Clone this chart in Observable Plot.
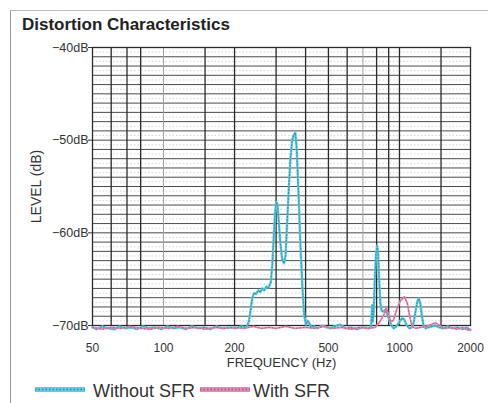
<!DOCTYPE html>
<html><head><meta charset="utf-8">
<script src="https://cdn.jsdelivr.net/npm/d3@7"></script>
<script src="https://cdn.jsdelivr.net/npm/@observablehq/plot@0.6"></script>
<style>
body{margin:0;background:#fff;font-family:"Liberation Sans",Arial,sans-serif;}
#wrap{position:relative;width:488px;height:403px;overflow:hidden;background:#fff}
#border{position:absolute;left:10px;top:10px;width:490px;height:400px;border-left:1px solid #999;border-top:1px solid #bbb}
#title{position:absolute;left:22px;top:15.6px;font-weight:bold;font-size:17px;color:#222;line-height:1;white-space:nowrap}
#chart{position:absolute;left:0;top:0}
.leg{position:absolute;top:381.5px;font-size:18px;line-height:1;color:#333;white-space:nowrap}
.sw{position:absolute;top:386px}
</style></head>
<body>
<div id="wrap">
  <div id="border"></div>
  <div id="title">Distortion Characteristics</div>
  <div id="chart"></div>
  <div id="legend"></div>
</div>
<script>
// ---- data ----
const seriesNames = ["Without SFR", "With SFR"];
const seriesColors = ["#5fd0e2", "#e58ab4"];
const seriesDots = ["#2c97b5", "#c2558a"];

const xTicks = [50, 100, 200, 500, 1000, 2000];
const yTicks = [-40, -50, -60, -70];
const gridFreq = [60, 70, 80, 150, 200, 300, 400, 500, 600, 800, 900, 1000, 1500];
const gridFreqLight = [100, 700];

const withoutFreq = [50, 52, 55, 58, 62, 65, 69, 73, 77, 82, 87, 92, 98, 104, 110, 117, 124, 132, 140, 149, 158, 168, 178, 190, 202, 214, 224, 230, 234, 238, 242, 247, 252, 257, 262, 267, 273, 279, 285, 289, 293, 297, 301, 304, 308, 313, 318, 324, 329, 334, 339, 345, 351, 357, 362, 367, 373, 380, 388, 395, 402, 408, 414, 422, 435, 450, 470, 490, 510, 530, 560, 590, 620, 660, 700, 740, 758, 766, 770, 778, 786, 795, 804, 812, 820, 830, 840, 855, 870, 885, 905, 925, 945, 970, 1000, 1030, 1050, 1075, 1100, 1130, 1150, 1170, 1190, 1207, 1225, 1245, 1265, 1290, 1330, 1380, 1420, 1470, 1530, 1600, 1680, 1760, 1850, 1930, 2000];
const withoutLevel = [-70.2, -70.4, -70.1, -70.3, -70.4, -70.1, -70.3, -70.2, -70.4, -70.1, -70.3, -70.2, -70.4, -70.1, -70.3, -70.2, -70.4, -70.1, -70.3, -70.2, -70.4, -70.1, -70.3, -70.2, -70.3, -70.1, -70.2, -69.6, -68.3, -67.0, -66.5, -66.6, -66.2, -66.4, -66.0, -66.2, -65.8, -65.9, -65.3, -63.5, -60.5, -57.8, -56.7, -56.9, -58.8, -61.2, -62.8, -63.3, -62.5, -59.0, -55.5, -52.0, -50.0, -49.4, -49.2, -51.0, -55.5, -61.0, -66.0, -69.0, -69.9, -69.5, -69.7, -70.2, -70.1, -70.3, -70.0, -70.2, -70.3, -70.1, -69.9, -70.3, -70.2, -70.4, -70.2, -70.3, -70.1, -67.8, -69.6, -68.5, -65.0, -62.3, -61.4, -62.2, -65.0, -67.6, -68.4, -68.5, -68.3, -68.7, -69.4, -70.0, -70.3, -70.1, -69.6, -69.2, -69.4, -70.0, -70.3, -70.2, -69.6, -68.5, -67.4, -67.1, -67.6, -69.0, -70.0, -70.3, -70.2, -70.1, -70.0, -70.2, -70.3, -70.1, -70.3, -70.2, -70.4, -70.2, -70.5];

const withFreq = [50, 55, 60, 66, 72, 80, 88, 96, 105, 115, 125, 137, 150, 165, 180, 200, 220, 240, 260, 280, 300, 330, 360, 400, 440, 480, 520, 570, 620, 680, 740, 790, 830, 860, 880, 900, 920, 945, 975, 1010, 1050, 1080, 1105, 1130, 1170, 1230, 1300, 1360, 1420, 1480, 1560, 1650, 1750, 1850, 1950, 2000];
const withLevel = [-70.2, -70.4, -70.2, -70.3, -70.1, -70.3, -70.4, -70.2, -70.3, -70.1, -70.3, -70.2, -70.4, -70.2, -70.3, -70.2, -70.3, -70.1, -70.3, -70.2, -70.3, -70.1, -70.3, -70.2, -70.3, -70.1, -70.3, -70.2, -70.4, -70.2, -70.3, -70.2, -69.5, -68.8, -68.1, -68.9, -69.6, -69.4, -68.2, -67.3, -66.9, -67.6, -69.0, -70.1, -70.3, -70.2, -70.1, -69.9, -69.7, -70.0, -70.3, -70.2, -70.4, -70.2, -70.5, -70.4];

// ---- tables for the library ----
const withoutData = withoutFreq.map((f, i) => ({f, db: withoutLevel[i]}));
const withData = withFreq.map((f, i) => ({f, db: withLevel[i]}));
const dbLines = d3.range(-69, -40, 1);
const halfLines = d3.range(-69.5, -40, 1);

const font = "Liberation Sans, Arial, sans-serif";
const chart = Plot.plot({
  width: 488, height: 375,
  marginTop: 47, marginLeft: 92, marginRight: 18, marginBottom: 50,
  style: {fontFamily: font, fontSize: "12px", color: "#333", background: "transparent", overflow: "visible"},
  x: {type: "log", domain: [50, 2000]},
  y: {domain: [-70, -40]},
  marks: [
    Plot.ruleY(halfLines, {stroke: "#c4c4c4", strokeWidth: 0.7, strokeDasharray: "1.5,2"}),
    Plot.ruleY(dbLines, {stroke: "#4a4a4a", strokeWidth: 1}),
    Plot.ruleX(gridFreqLight, {stroke: "#a0a0a0", strokeWidth: 1}),
    Plot.ruleX(gridFreq, {stroke: "#2a2a2a", strokeWidth: 1.3}),
    Plot.frame({stroke: "#2a2a2a", strokeWidth: 1.3}),
    Plot.axisX({ticks: xTicks, tickSize: 0, tickPadding: 18, tickFormat: d => String(d), label: null, fontSize: 12}),
    Plot.axisY({ticks: yTicks, tickSize: 4, tickPadding: 0, tickFormat: d => "\u2212" + (-d) + "dB", label: null, fontSize: 12.5}),
    Plot.text(["FREQUENCY (Hz)"], {text: d => d, frameAnchor: "bottom", dy: 41, fontSize: 13, fill: "#333"}),
    Plot.text(["LEVEL (dB)"], {text: d => d, frameAnchor: "left", dx: -56, rotate: -90, textAnchor: "middle", fontSize: 14, fill: "#333"}),
    Plot.line(withoutData, {x: "f", y: "db", stroke: seriesColors[0], strokeWidth: 2.4}),
    Plot.line(withoutData, {x: "f", y: "db", stroke: seriesDots[0], strokeWidth: 1.2, strokeDasharray: "1,2"}),
    Plot.line(withData, {x: "f", y: "db", stroke: seriesColors[1], strokeWidth: 1.8}),
    Plot.line(withData, {x: "f", y: "db", stroke: seriesDots[1], strokeWidth: 1, strokeDasharray: "1,2.5"})
  ]
});
document.getElementById("chart").append(chart);

// legend
const legend = document.getElementById("legend");
const swX = [35, 200], txX = [93, 253];
seriesNames.forEach((name, i) => {
  const sw = document.createElementNS("http://www.w3.org/2000/svg", "svg");
  sw.setAttribute("class", "sw");
  sw.setAttribute("width", 50); sw.setAttribute("height", 7);
  sw.style.left = swX[i] + "px";
  sw.innerHTML = `<line x1="0" y1="3.5" x2="50" y2="3.5" stroke="${seriesColors[i]}" stroke-width="5"/>` +
    `<line x1="0" y1="3.5" x2="50" y2="3.5" stroke="${seriesDots[i]}" stroke-width="2" stroke-dasharray="1.5,2"/>`;
  legend.append(sw);
  const t = document.createElement("div");
  t.className = "leg"; t.style.left = txX[i] + "px"; t.textContent = name;
  legend.append(t);
});
</script>
</body></html>
